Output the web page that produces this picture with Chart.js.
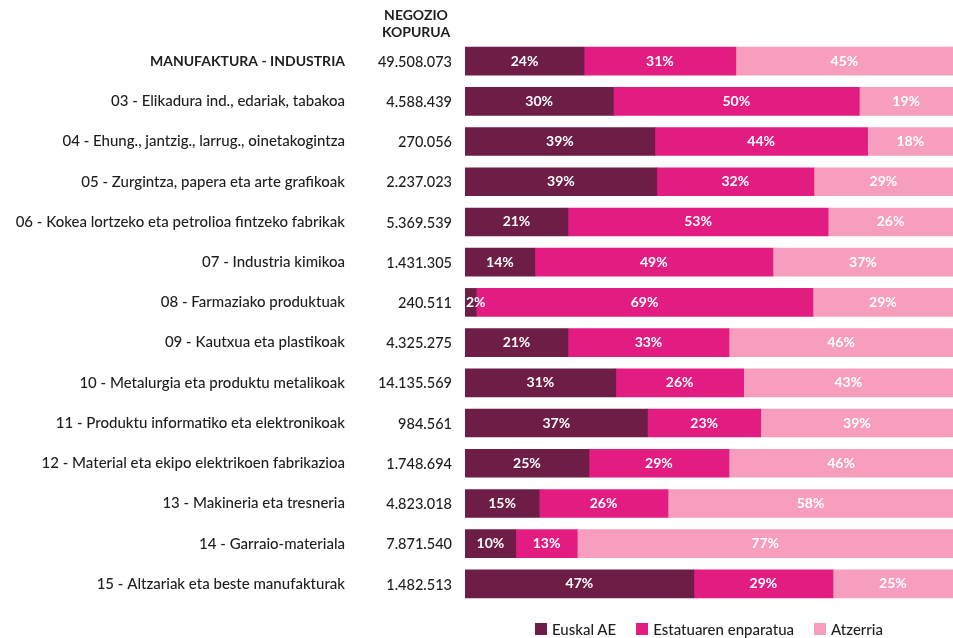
<!DOCTYPE html>
<html>
<head>
<meta charset="utf-8">
<script src="https://cdn.jsdelivr.net/npm/chart.js@4/dist/chart.umd.min.js"></script>
<style>
  body { margin: 0; background: #fff; }
  #edukia { position: relative; width: 953px; height: 638px; }
  #legenda {
    position: absolute; left: 465px; width: 488px; top: 620px;
    display: flex; justify-content: center; gap: 20px;
    font: 500 15px Lato, 'Open Sans', sans-serif; color: #1e1e1e; line-height: 18px;
  }
  #legenda span.item { display: flex; align-items: center; gap: 5px; }
  #legenda span.kutxa { display: inline-block; width: 12px; height: 12px; }
</style>
</head>
<body>
<div id="edukia">
  <canvas id="grafikoa" width="953" height="638"></canvas>
  <div id="legenda"></div>
</div>
<script>
var sektoreak = [
  "MANUFAKTURA - INDUSTRIA",
  "03 - Elikadura ind., edariak, tabakoa",
  "04 - Ehung., jantzig., larrug., oinetakogintza",
  "05 - Zurgintza, papera eta arte grafikoak",
  "06 - Kokea lortzeko eta petrolioa fintzeko fabrikak",
  "07 - Industria kimikoa",
  "08 - Farmaziako produktuak",
  "09 - Kautxua eta plastikoak",
  "10 - Metalurgia eta produktu metalikoak",
  "11 - Produktu informatiko eta elektronikoak",
  "12 - Material eta ekipo elektrikoen fabrikazioa",
  "13 - Makineria eta tresneria",
  "14 - Garraio-materiala",
  "15 - Altzariak eta beste manufakturak"
];
var negozioKopurua = [
  "49.508.073", "4.588.439", "270.056", "2.237.023", "5.369.539", "1.431.305", "240.511",
  "4.325.275", "14.135.569", "984.561", "1.748.694", "4.823.018", "7.871.540", "1.482.513"
];
var euskalAE   = [24.4, 30.4, 38.9, 39.3, 21.1, 14.3,  2.3, 21.1, 30.9, 37.4, 25.4, 15.2, 10.4, 46.9];
var estatua    = [31.1, 50.4, 43.6, 32.2, 53.3, 48.8, 69.0, 33.0, 26.2, 23.2, 28.7, 26.4, 12.6, 28.5];
var atzerria   = [44.5, 19.2, 17.5, 28.5, 25.6, 36.9, 28.7, 45.9, 42.9, 39.4, 45.9, 58.4, 77.0, 24.6];

var letra = "Lato, 'Open Sans', sans-serif";
var testuKolorea = "#1e1e1e";

// ehunekoak barren barruan
var ehunekoPlugin = {
  id: "ehunekoak",
  afterDatasetsDraw: function(chart) {
    var ctx = chart.ctx;
    ctx.save();
    ctx.font = "bold 14px " + letra;
    ctx.fillStyle = "#fff";
    ctx.textBaseline = "middle";
    chart.data.datasets.forEach(function(ds, d) {
      var meta = chart.getDatasetMeta(d);
      meta.data.forEach(function(bar, i) {
        var txt = Math.round(ds.data[i]) + "%";
        var w = ctx.measureText(txt).width;
        var left = Math.min(bar.x, bar.base);
        var zabal = Math.abs(bar.x - bar.base);
        if (zabal < w + 4) {
          ctx.textAlign = "left";
          ctx.fillText(txt, left + 1, bar.y);
        } else {
          ctx.textAlign = "center";
          ctx.fillText(txt, (bar.x + bar.base) / 2, bar.y);
        }
      });
    });
    ctx.restore();
  }
};

// negozio kopurua zutabea eta goiburua
var zutabePlugin = {
  id: "zutabea",
  afterDraw: function(chart) {
    var ctx = chart.ctx;
    var y = chart.scales.y;
    ctx.save();
    ctx.fillStyle = testuKolorea;
    ctx.textBaseline = "middle";
    ctx.textAlign = "center";
    ctx.font = "bold 14px " + letra;
    ctx.fillText("NEGOZIO", 416, 15);
    ctx.fillText("KOPURUA", 416, 32);
    ctx.textAlign = "right";
    ctx.font = "500 14.5px " + letra;
    negozioKopurua.forEach(function(n, i) {
      ctx.fillText(n, 452, y.getPixelForValue(i) + 1);
    });
    ctx.restore();
  }
};

var grafikoa = new Chart(document.getElementById("grafikoa"), {
  type: "bar",
  data: {
    labels: sektoreak,
    datasets: [
      { label: "Euskal AE", data: euskalAE, backgroundColor: "#6e1e46" },
      { label: "Estatuaren enparatua", data: estatua, backgroundColor: "#e31c82" },
      { label: "Atzerria", data: atzerria, backgroundColor: "#f79dbd" }
    ]
  },
  options: {
    indexAxis: "y",
    responsive: false,
    animation: false,
    layout: { padding: { top: 41, right: 0, bottom: 34, left: 0 } },
    datasets: { bar: { barThickness: 28, borderWidth: 0 } },
    scales: {
      x: { stacked: true, min: 0, max: 100, display: false },
      y: {
        stacked: true,
        grid: { display: false, drawTicks: false },
        border: { display: false },
        afterFit: function(scale) {
          scale.width = 465;
          // tick padding-a ez dadila goian/behean ere sartu
          scale.paddingTop = 0;
          scale.paddingBottom = 0;
        },
        ticks: {
          padding: 120,
          color: testuKolorea,
          font: function(c) {
            return c.index === 0
              ? { family: letra, size: 14, weight: "bold" }
              : { family: letra, size: 15, weight: "500" };
          }
        }
      }
    },
    plugins: {
      tooltip: { enabled: false },
      legend: { display: false }
    }
  },
  plugins: [ehunekoPlugin, zutabePlugin]
});

// legenda
var legenda = document.getElementById("legenda");
grafikoa.data.datasets.forEach(function(ds) {
  var item = document.createElement("span");
  item.className = "item";
  var kutxa = document.createElement("span");
  kutxa.className = "kutxa";
  kutxa.style.background = ds.backgroundColor;
  item.appendChild(kutxa);
  item.appendChild(document.createTextNode(ds.label));
  legenda.appendChild(item);
});
</script>
</body>
</html>
